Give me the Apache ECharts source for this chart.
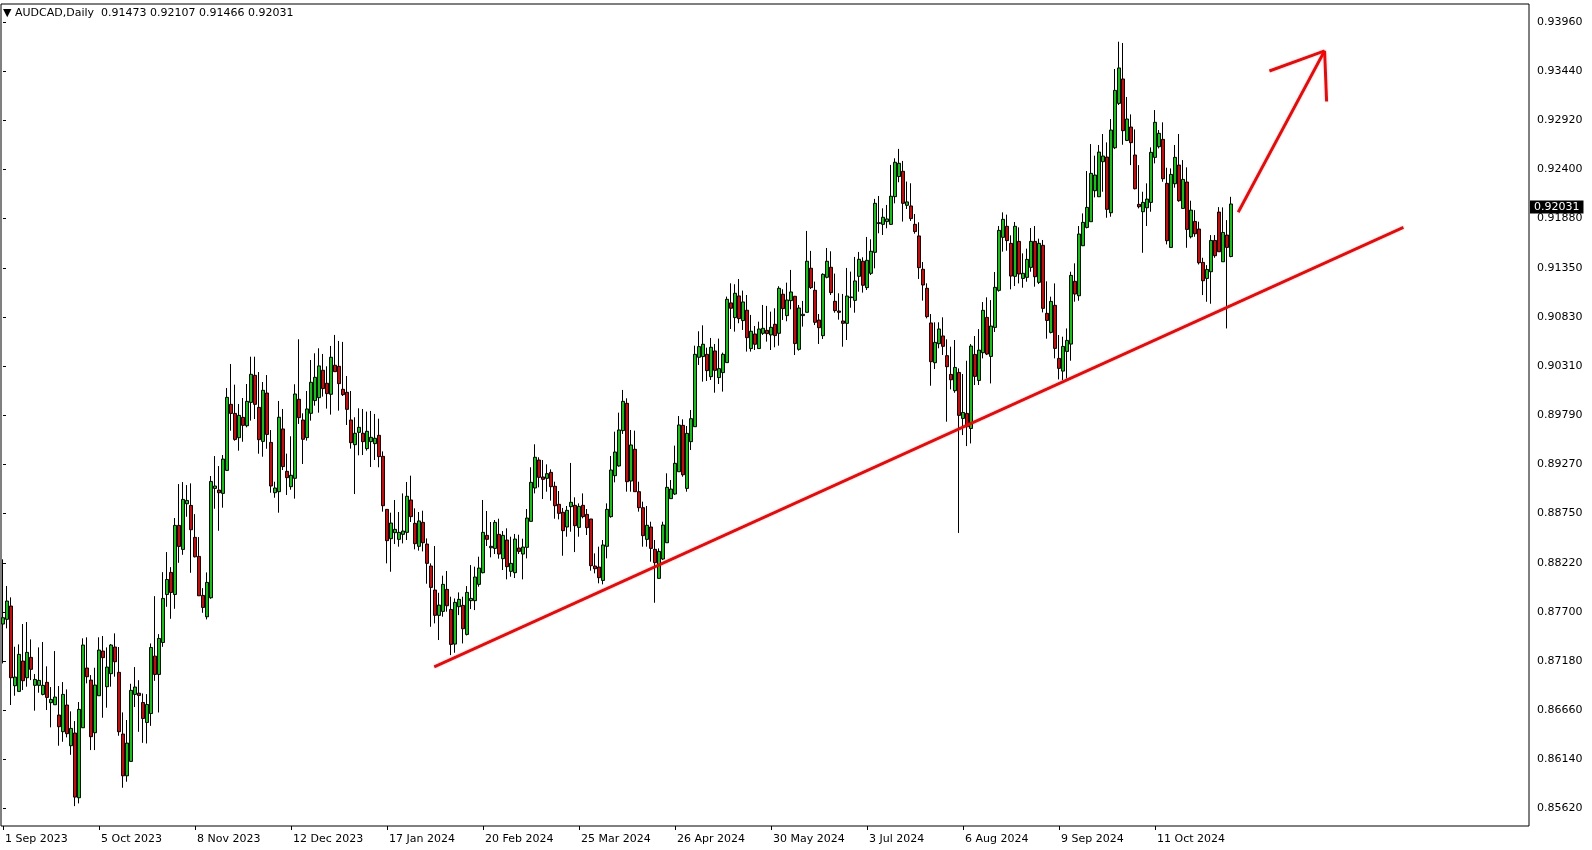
<!DOCTYPE html>
<html><head><meta charset="utf-8">
<script src="https://cdn.jsdelivr.net/npm/echarts@6/dist/echarts.min.js"></script>
<style>html,body{margin:0;padding:0;background:#fff}#c{width:1592px;height:850px}</style>
</head><body><div id="c"></div>
<script>
const symbolName = 'AUDCAD,Daily';
const tickLabels = ['1 Sep 2023','5 Oct 2023','8 Nov 2023','12 Dec 2023','17 Jan 2024','20 Feb 2024','25 Mar 2024','26 Apr 2024','30 May 2024','3 Jul 2024','6 Aug 2024','9 Sep 2024','11 Oct 2024'];
const priceTicks = [0.85620,0.86140,0.86660,0.87180,0.87700,0.88220,0.88750,0.89270,0.89790,0.90310,0.90830,0.91350,0.91880,0.92400,0.92920,0.93440,0.93960];
const holidays = ['2023-12-25','2024-01-01'];

const openP = [
0.87572,0.87622,0.87763,0.86917,0.86857,0.87179,0.87002,0.87218,0.86921,0.86921,
0.86825,0.86953,0.86737,0.86715,0.86606,0.86429,0.86712,0.86280,0.86415,0.85728,
0.86471,0.87105,0.86977,0.86418,0.86811,0.87285,0.86907,0.87045,0.87328,0.87059,
0.86404,0.85961,0.86114,0.86825,0.86838,0.86739,0.86527,0.86622,0.87231,0.87037,
0.87376,0.87886,0.88120,0.87886,0.88619,0.88364,0.88849,0.88831,0.88492,0.88290,
0.87876,0.87649,0.87851,0.89012,0.88994,0.88959,0.89203,0.89904,0.89808,0.89550,
0.89766,0.89677,0.89925,0.90212,0.89872,0.89511,0.90024,0.89500,0.88966,0.88977,
0.89643,0.89193,0.89030,0.89119,0.89958,0.89738,0.89551,0.89809,0.89944,0.89975,
0.90266,0.90128,0.90011,0.90319,0.90308,0.90064,0.90032,0.89738,0.89476,0.89607,
0.89597,0.89434,0.89508,0.89487,0.89575,0.89352,0.88789,0.88478,0.88542,0.88471,
0.88524,0.88545,0.88889,0.88641,0.88397,0.88651,0.88421,0.88188,0.87933,0.87664,
0.87706,0.87940,0.87727,0.87359,0.87756,0.87770,0.87462,0.87820,0.87820,0.87993,
0.88117,0.88513,0.88382,0.88375,0.88524,0.88266,0.88464,0.88131,0.88117,0.88379,
0.88315,0.88386,0.88662,0.89016,0.89313,0.89133,0.89119,0.89182,0.89034,0.88843,
0.88758,0.88602,0.88818,0.88832,0.88598,0.88832,0.88736,0.88687,0.88188,0.88177,
0.88035,0.88397,0.88712,0.89147,0.89250,0.89625,0.89915,0.89090,0.89427,0.88977,
0.88807,0.88471,0.88602,0.88365,0.88057,0.88262,0.88435,0.88903,0.88952,0.89189,
0.89681,0.89012,0.89508,0.89667,0.90404,0.90411,0.90435,0.90198,0.90471,0.90188,
0.90241,0.90347,0.90981,0.90825,0.91055,0.90793,0.90903,0.90496,0.90651,0.90496,
0.90658,0.90690,0.90641,0.90754,0.90658,0.91073,0.90846,0.91005,0.91051,0.90488,
0.90846,0.90881,0.91349,0.91115,0.90799,0.90633,0.91253,0.91359,0.90998,0.90895,
0.90789,0.90764,0.91037,0.91008,0.91263,0.91423,0.91143,0.91295,0.91518,0.91823,
0.91815,0.91844,0.91815,0.92109,0.92322,0.92378,0.92017,0.92010,0.91815,0.91692,
0.91338,0.91136,0.90768,0.90346,0.90548,0.90630,0.90421,0.90222,0.90049,0.90243,
0.89755,0.89808,0.89648,0.90434,0.90158,0.90452,0.90827,0.90413,0.90721,0.91114,
0.91677,0.91794,0.91613,0.91263,0.91634,0.91241,0.91252,0.91358,0.91634,0.91199,
0.91592,0.90870,0.90668,0.90955,0.90392,0.90257,0.90466,0.90544,0.91210,0.91057,
0.91588,0.91782,0.91843,0.92172,0.92108,0.92480,0.92529,0.91938,0.92628,0.93099,
0.93358,0.92706,0.92848,0.92551,0.92027,0.91949,0.91991,0.92048,0.92526,0.92639,
0.92717,0.92250,0.91570,0.92246,0.92444,0.91984,0.92264,0.91683,0.91846,0.91765,
0.91411,0.91241,0.91312,0.91644,0.91945,0.91418,0.91701,0.91473];

const highP = [
0.88259,0.87976,0.87855,0.87331,0.87356,0.87572,0.87593,0.87409,0.87041,0.87324,
0.87381,0.87123,0.86903,0.87285,0.86914,0.86956,0.86878,0.86645,0.86542,0.86744,
0.87420,0.87431,0.87030,0.87108,0.87431,0.87445,0.87324,0.87360,0.87473,0.87328,
0.86634,0.86553,0.86938,0.87115,0.86976,0.86835,0.86828,0.87366,0.87868,0.87465,
0.88123,0.88336,0.88176,0.88697,0.89058,0.89079,0.89047,0.89065,0.88739,0.88495,
0.87953,0.88120,0.89143,0.89355,0.89249,0.89366,0.90077,0.90332,0.90113,0.89908,
0.89971,0.90120,0.90410,0.90410,0.90247,0.90141,0.90215,0.89631,0.89083,0.89940,
0.89855,0.89381,0.89565,0.90117,0.90595,0.89809,0.90046,0.90375,0.90446,0.90499,
0.90439,0.90308,0.90524,0.90641,0.90577,0.90567,0.90205,0.90046,0.89767,0.89862,
0.89855,0.89827,0.89834,0.89802,0.89752,0.89405,0.88789,0.88754,0.88889,0.88761,
0.88959,0.89080,0.89147,0.88800,0.88761,0.88775,0.88481,0.88216,0.88400,0.87904,
0.88085,0.88135,0.87862,0.87844,0.87908,0.87862,0.87975,0.88198,0.88181,0.88287,
0.88889,0.88772,0.88655,0.88676,0.88690,0.88559,0.88588,0.88499,0.88528,0.88520,
0.88478,0.88793,0.89236,0.89480,0.89342,0.89313,0.89267,0.89214,0.89083,0.88984,
0.88804,0.88825,0.89282,0.88917,0.88853,0.88959,0.88793,0.88687,0.88322,0.88393,
0.88464,0.88853,0.89356,0.89614,0.89816,0.90057,0.89968,0.89632,0.89625,0.89083,
0.88871,0.88825,0.88658,0.88464,0.88375,0.88658,0.89172,0.89101,0.89466,0.89780,
0.89745,0.89674,0.89844,0.90527,0.90680,0.90743,0.90506,0.90609,0.90545,0.90602,
0.90453,0.91048,0.91189,0.91179,0.91235,0.91112,0.91065,0.90853,0.90736,0.90782,
0.90959,0.90949,0.90888,0.90924,0.91158,0.91126,0.91196,0.91331,0.91055,0.90959,
0.91002,0.91745,0.91533,0.91207,0.90863,0.91295,0.91564,0.91529,0.91292,0.91083,
0.91076,0.91352,0.91313,0.91469,0.91522,0.91465,0.91681,0.91656,0.92085,0.92116,
0.91985,0.92021,0.92446,0.92516,0.92616,0.92488,0.92269,0.92251,0.91925,0.91837,
0.91415,0.91189,0.90863,0.90775,0.90775,0.90828,0.90594,0.90516,0.90587,0.90286,
0.90226,0.90367,0.90544,0.90629,0.90703,0.90990,0.91040,0.91011,0.91309,0.91797,
0.91942,0.91918,0.91698,0.91840,0.91783,0.91507,0.91557,0.91776,0.91797,0.91663,
0.91649,0.91210,0.91047,0.91188,0.90640,0.90622,0.90710,0.91312,0.91401,0.91797,
0.91931,0.92381,0.92667,0.92544,0.92657,0.92774,0.92685,0.92933,0.93464,0.93754,
0.93740,0.93167,0.92982,0.92823,0.92444,0.92161,0.92250,0.92632,0.93028,0.92816,
0.92898,0.92416,0.92409,0.92657,0.92774,0.92497,0.92420,0.92066,0.91966,0.91843,
0.91460,0.91382,0.91701,0.91701,0.91998,0.91995,0.91860,0.92107];

const lowP = [
0.87154,0.87526,0.86712,0.86811,0.86853,0.86871,0.86907,0.86977,0.86652,0.86843,
0.86815,0.86659,0.86475,0.86715,0.86280,0.86322,0.86369,0.86184,0.85639,0.85668,
0.86471,0.86942,0.86234,0.86234,0.86811,0.86577,0.86684,0.86907,0.87013,0.86386,
0.85834,0.85898,0.86114,0.86691,0.86428,0.86311,0.86304,0.86491,0.86969,0.86633,
0.87330,0.87755,0.87628,0.87734,0.88222,0.88307,0.88711,0.88116,0.88279,0.87872,
0.87691,0.87621,0.87840,0.88796,0.88562,0.88807,0.89203,0.89624,0.89518,0.89412,
0.89507,0.89660,0.89731,0.89748,0.89380,0.89348,0.89433,0.88966,0.88913,0.88754,
0.89207,0.88942,0.88998,0.88903,0.89696,0.89271,0.89519,0.89731,0.89890,0.89816,
0.89986,0.89859,0.89795,0.90248,0.89837,0.89993,0.89685,0.89434,0.88952,0.89363,
0.89366,0.89413,0.89239,0.89313,0.89236,0.88765,0.88216,0.88127,0.88421,0.88393,
0.88428,0.88464,0.88655,0.88365,0.88351,0.88343,0.88000,0.87543,0.87579,0.87402,
0.87650,0.87703,0.87242,0.87267,0.87667,0.87366,0.87451,0.87731,0.87720,0.87968,
0.88110,0.88400,0.88280,0.88315,0.88266,0.88145,0.88046,0.88074,0.88060,0.88315,
0.88046,0.88269,0.88662,0.88959,0.89023,0.88899,0.88977,0.88882,0.88690,0.88683,
0.88297,0.88499,0.88552,0.88336,0.88499,0.88694,0.88517,0.88138,0.88110,0.88004,
0.87993,0.88269,0.88701,0.89076,0.89243,0.89590,0.88977,0.88977,0.88977,0.88765,
0.88393,0.88393,0.88234,0.87798,0.88053,0.88251,0.88435,0.88903,0.88942,0.89189,
0.89136,0.88977,0.89419,0.89667,0.90322,0.90145,0.90152,0.90163,0.90028,0.90120,
0.90039,0.90347,0.90704,0.90676,0.90765,0.90694,0.90464,0.90464,0.90481,0.90496,
0.90641,0.90570,0.90481,0.90510,0.90527,0.90800,0.90786,0.90913,0.90428,0.90474,
0.90729,0.90881,0.91129,0.90746,0.90545,0.90598,0.91242,0.91065,0.90877,0.90803,
0.90516,0.90587,0.90930,0.90877,0.91100,0.91090,0.91118,0.91277,0.91348,0.91720,
0.91702,0.91773,0.91808,0.92038,0.92262,0.91844,0.91978,0.91851,0.91716,0.91235,
0.91005,0.90817,0.90102,0.90279,0.90499,0.90428,0.89720,0.90063,0.90027,0.88539,
0.89578,0.89461,0.89489,0.90109,0.90109,0.90392,0.90427,0.90126,0.90672,0.91100,
0.91525,0.91535,0.91125,0.91160,0.91188,0.91142,0.91206,0.91312,0.91153,0.91181,
0.90880,0.90601,0.90657,0.90392,0.90169,0.90162,0.90179,0.90367,0.90994,0.91004,
0.91584,0.91772,0.91843,0.92101,0.92108,0.92161,0.91885,0.91896,0.92614,0.93082,
0.92660,0.92699,0.92444,0.92186,0.91984,0.91513,0.91797,0.91949,0.92462,0.92621,
0.92267,0.91602,0.91566,0.92204,0.92055,0.91984,0.91566,0.91666,0.91683,0.91389,
0.91064,0.90993,0.90972,0.91460,0.91524,0.91418,0.90710,0.91466];

const closeP = [
0.87639,0.87816,0.87002,0.87009,0.87250,0.86970,0.87271,0.87091,0.86984,0.86974,
0.86921,0.86793,0.86772,0.86797,0.86482,0.86825,0.86408,0.86464,0.85735,0.86666,
0.87349,0.87013,0.86376,0.86924,0.87296,0.87215,0.87115,0.87349,0.87172,0.86429,
0.85961,0.86308,0.86868,0.86903,0.86814,0.86569,0.86718,0.87323,0.87037,0.87419,
0.87844,0.88045,0.87907,0.88619,0.88396,0.88895,0.88884,0.88573,0.88286,0.87872,
0.87748,0.88014,0.89086,0.89037,0.88966,0.89323,0.89978,0.89808,0.89532,0.89787,
0.89681,0.89936,0.90223,0.89904,0.89529,0.90053,0.89585,0.89037,0.89016,0.89767,
0.89243,0.89126,0.89151,0.90014,0.89763,0.89533,0.89855,0.90138,0.90191,0.90312,
0.90071,0.90018,0.90404,0.90251,0.90124,0.90007,0.89851,0.89497,0.89597,0.89660,
0.89508,0.89618,0.89554,0.89544,0.89349,0.88828,0.88457,0.88644,0.88577,0.88545,
0.88559,0.88928,0.88712,0.88425,0.88666,0.88435,0.88216,0.87961,0.87664,0.87773,
0.87993,0.87766,0.87356,0.87802,0.87834,0.87522,0.87908,0.87844,0.88071,0.88166,
0.88545,0.88471,0.88397,0.88651,0.88315,0.88513,0.88181,0.88216,0.88474,0.88343,
0.88389,0.88697,0.89076,0.89342,0.89129,0.89108,0.89168,0.89030,0.88828,0.88747,
0.88563,0.88779,0.88864,0.88616,0.88821,0.88712,0.88595,0.88191,0.88159,0.88064,
0.88411,0.88789,0.89207,0.89398,0.89632,0.89936,0.89083,0.89473,0.88977,0.88807,
0.88510,0.88620,0.88375,0.88223,0.88343,0.88623,0.89023,0.89005,0.89278,0.89685,
0.89157,0.89596,0.89752,0.90435,0.90517,0.90542,0.90262,0.90510,0.90265,0.90283,
0.90435,0.91019,0.90924,0.91083,0.90814,0.90991,0.90612,0.90680,0.90542,0.90704,
0.90711,0.90655,0.90722,0.90634,0.91136,0.90920,0.91012,0.91097,0.90549,0.90927,
0.90860,0.91423,0.91143,0.90775,0.90718,0.91284,0.91423,0.91090,0.90899,0.90881,
0.90764,0.91054,0.91044,0.91214,0.91444,0.91168,0.91433,0.91529,0.92038,0.91833,
0.91890,0.91872,0.92113,0.92474,0.92463,0.92038,0.92053,0.91876,0.91738,0.91355,
0.91171,0.90835,0.90357,0.90562,0.90704,0.90520,0.90304,0.90165,0.90296,0.89787,
0.89818,0.89666,0.90523,0.90201,0.90480,0.90902,0.90438,0.90735,0.91146,0.91751,
0.91868,0.91642,0.91266,0.91794,0.91288,0.91295,0.91443,0.91634,0.91259,0.91613,
0.90923,0.90795,0.90997,0.90498,0.90286,0.90519,0.90583,0.91273,0.91075,0.91712,
0.91836,0.91995,0.92356,0.92338,0.92582,0.92540,0.91974,0.92816,0.93237,0.93475,
0.92809,0.92933,0.92682,0.92193,0.92002,0.92048,0.92083,0.92579,0.92898,0.92781,
0.92299,0.91641,0.92345,0.92526,0.92066,0.92292,0.91761,0.91966,0.91715,0.91407,
0.91216,0.91336,0.91644,0.91482,0.91524,0.91729,0.91570,0.92031];

// drawn objects, in (bar index, price)
const trendLine = [[107.8, 0.87116], [350.1, 0.91783]];
const arrowShaft = [[308.8, 0.91944], [330.4, 0.93657]];
const arrowHeadLeft = [[316.6, 0.93443], [330.4, 0.93657]];
const arrowHeadRight = [[330.4, 0.93657], [330.9, 0.93119]];

const slotCount = 382;
const labelStep = 24;
const yMin = 0.85428, yMax = 0.94154;

const categories = [];
{
  const d = new Date(Date.UTC(2023, 8, 1));
  while (categories.length < slotCount) {
    const wd = d.getUTCDay();
    const s = d.toISOString().slice(0, 10);
    if (wd !== 0 && wd !== 6 && holidays.indexOf(s) < 0) categories.push(s);
    d.setUTCDate(d.getUTCDate() + 1);
  }
}

const ohlc = openP.map((o, i) => [o, closeP[i], lowP[i], highP[i]]);
const last = openP.length - 1;
const showLabel = (i) => i % labelStep === 0 && (i / labelStep) < tickLabels.length;
const font = 'DejaVu Sans';

const chart = echarts.init(document.getElementById('c'), null, {renderer: 'canvas'});
const redLine = (data) => ({
  type: 'line', xAxisIndex: 1, data: data, symbol: 'none', silent: true,
  lineStyle: {color: '#ff0000', width: 3}, animation: false, z: 5
});
chart.setOption({
  animation: false,
  backgroundColor: '#ffffff',
  title: {
    text: '\u25BC ' + symbolName + '  ' + [openP[last], highP[last], lowP[last], closeP[last]].map(v => v.toFixed(5)).join(' '),
    left: 3, top: 8, padding: 0,
    textStyle: {fontSize: 11, fontWeight: 'normal', fontFamily: font, color: '#000'}
  },
  grid: {left: 1, top: 4, right: 63, bottom: 24, show: true, borderColor: '#000', borderWidth: 1, backgroundColor: 'transparent'},
  xAxis: [{
    type: 'category', data: categories, boundaryGap: true,
    axisLine: {show: false},
    axisTick: {show: true, interval: showLabel, alignWithLabel: true, length: 4, lineStyle: {color: '#000'}},
    axisLabel: {interval: showLabel, formatter: (v, i) => tickLabels[i / labelStep], align: 'left', margin: 8, padding: [0, 0, 0, 2], color: '#000', fontFamily: font, fontSize: 11},
    splitLine: {show: false}
  }, {
    type: 'value', min: -0.5, max: slotCount - 0.5, show: false
  }],
  yAxis: {
    type: 'value', position: 'right', min: yMin, max: yMax,
    axisLine: {show: false},
    axisTick: {show: true, customValues: priceTicks, length: 3, lineStyle: {color: '#000'}},
    axisLabel: {customValues: priceTicks, formatter: v => v.toFixed(5), margin: 8, color: '#000', fontFamily: font, fontSize: 11},
    splitLine: {show: false}
  },
  series: [{
    type: 'candlestick', xAxisIndex: 0, data: ohlc, barWidth: 3,
    itemStyle: {color: '#00d000', color0: '#e00000', borderColor: '#000', borderColor0: '#000', borderColorDoji: '#000', borderWidth: 1},
    markLine: {
      symbol: 'none', silent: true, animation: false,
      data: [{yAxis: closeP[last]}],
      lineStyle: {color: 'rgba(0,0,0,0)', width: 1, type: 'solid'},
      label: {show: true, position: 'end', formatter: closeP[last].toFixed(5), color: '#fff', backgroundColor: '#000', padding: [1, 4, 1, 4], fontSize: 11, fontFamily: font, distance: 1}
    }
  },
  redLine(trendLine), redLine(arrowShaft), redLine(arrowHeadLeft), redLine(arrowHeadRight)]
});
</script>
</body></html>
